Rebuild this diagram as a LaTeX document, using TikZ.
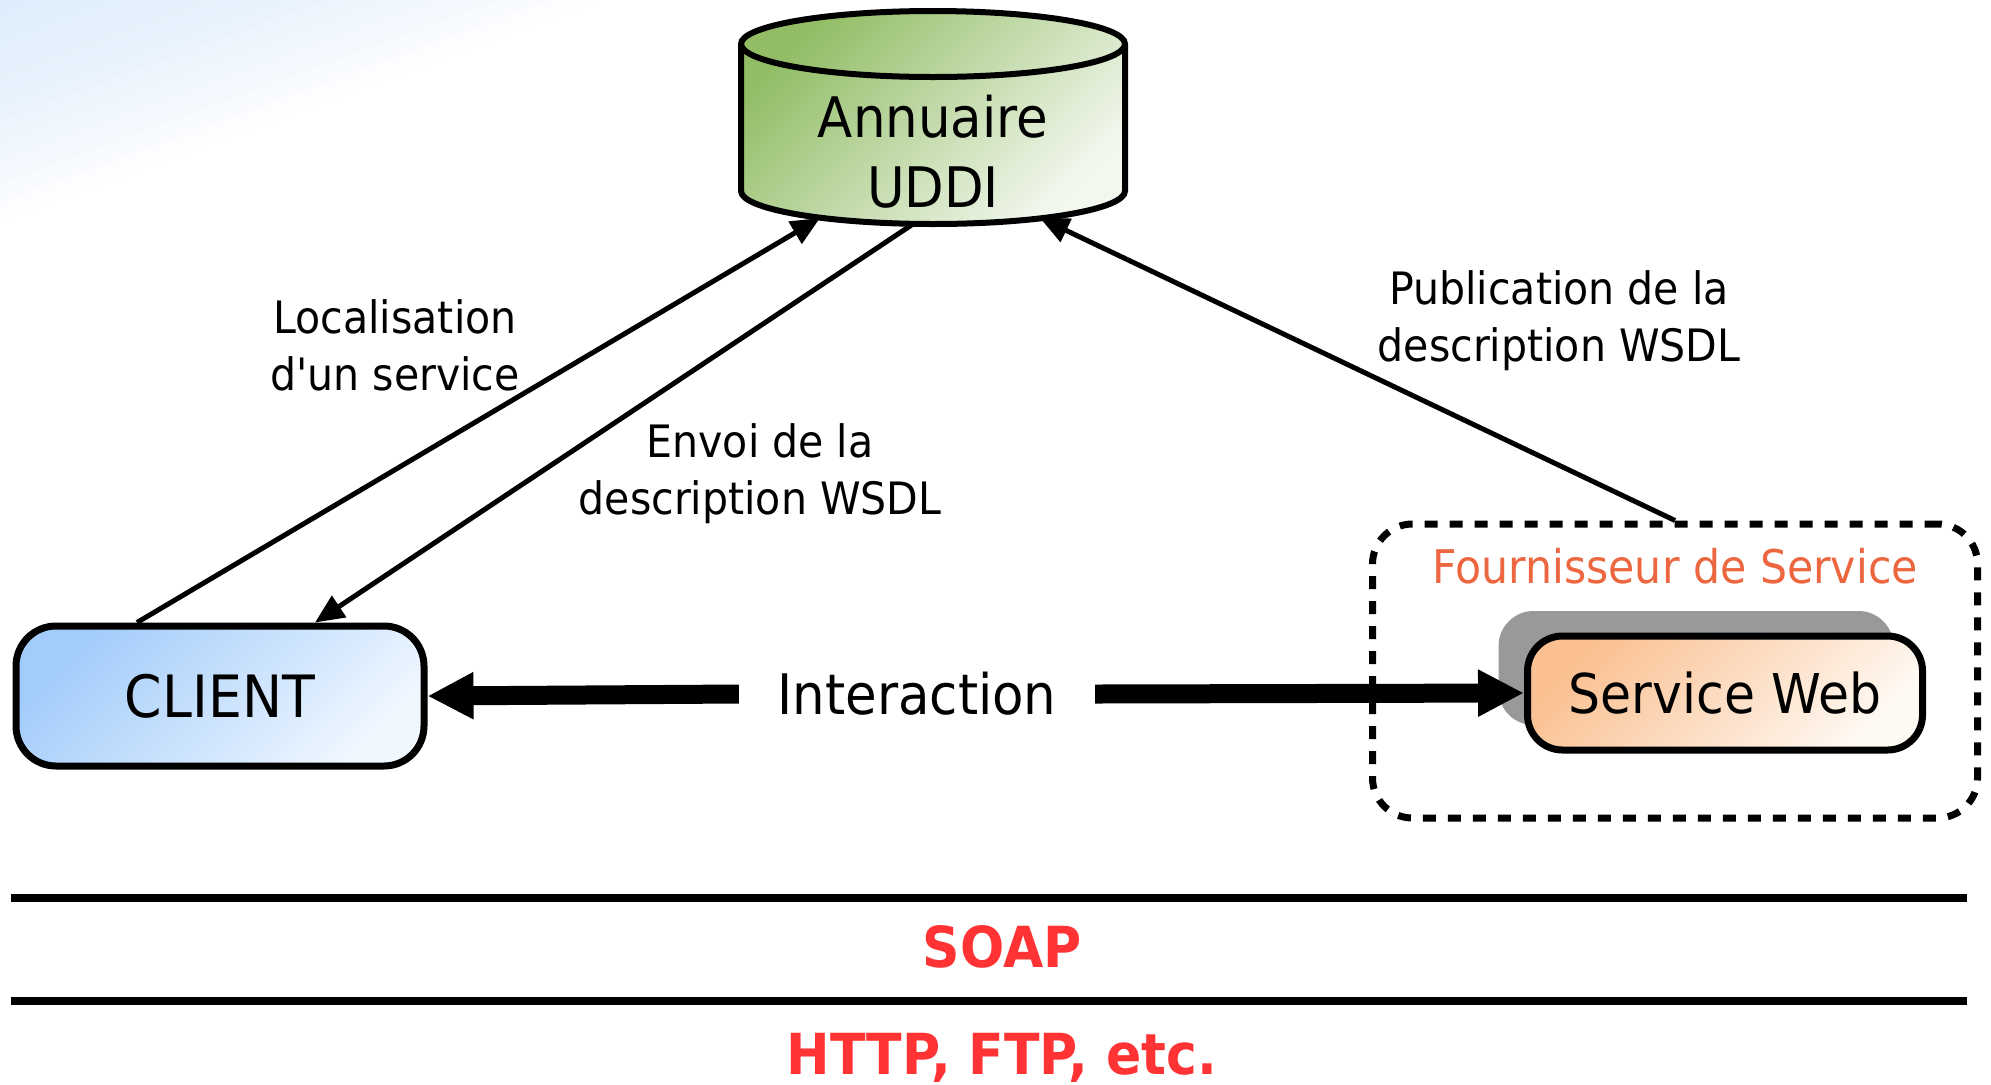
\documentclass[tikz,border=0pt]{standalone}
\usepackage{fontspec}
\setmainfont{DejaVu Sans}[FakeStretch=0.92, Ligatures=TeXOff]
\usetikzlibrary{arrows.meta,positioning,shadows,calc}

\definecolor{fondbleu}{RGB}{205,227,250}
\definecolor{uddihaut}{RGB}{146,189,102}
\definecolor{uddibas}{RGB}{243,248,239}
\definecolor{clienthaut}{RGB}{162,204,250}
\definecolor{clientbas}{RGB}{240,247,255}
\definecolor{webhaut}{RGB}{250,192,145}
\definecolor{webbas}{RGB}{255,249,243}
\definecolor{orangefourn}{RGB}{236,102,64}
\definecolor{rougesoap}{RGB}{255,51,51}

\begin{document}
\begin{tikzpicture}[x=0.1mm, y=-0.1mm,
  degrade/.style 2 args={top color=#1, bottom color=#2, shading angle=45},
  boite/.style={draw=black, rounded corners=4mm, line width=.7mm, align=center},
  cuve/.style={draw=black, line width=.6mm},
  bout/.style={x radius=19.2mm, y radius=3.3mm},
  cadre/.style={draw=black, dash pattern=on 1.3mm off 1.2mm, line width=.7mm, rounded corners=4mm, minimum width=60.5mm, minimum height=29.4mm},
  fleche/.style={-{Triangle[length=2.9mm,width=2.5mm]}, draw=black, line width=.5mm},
  grosse/.style={-{Triangle[length=4.6mm,width=4.4mm]}, draw=black, line width=1.9mm},
  legende/.style={align=center, font=\fontsize{12.7}{16.2}\selectfont},
  couche/.style={draw=black, line width=.85mm},
  protocole/.style={text=rougesoap, font=\fontsize{16.1}{19}\selectfont\bfseries}
]
\useasboundingbox (0,0) rectangle (1991,1084);
% fond degrade en haut a gauche
\foreach \k in {1,...,24}{\fill[fondbleu, opacity=.045] (0,0) -- (25*\k,0) -- (0,9.2*\k) -- cycle;}

% annuaire en cylindre
\node[minimum width=38.4mm, minimum height=21.3mm, inner sep=0pt, outer sep=0pt] (uddi) at (933,117.5) {};
\path[cuve, degrade={uddihaut}{uddibas}] ($(uddi.north west)+(0,33)$) -- ($(uddi.south west)+(0,-33)$)
  arc[start angle=180, end angle=360, bout] -- ($(uddi.north east)+(0,33)$)
  arc[start angle=0, end angle=180, bout] -- cycle;
\draw[cuve] ($(uddi.north west)+(0,33)$) arc[start angle=180, end angle=360, bout];
\node[align=center, font=\fontsize{15.9}{19.9}\selectfont] (uddinom) at (933,152) {Annuaire\\UDDI};

\node[boite, degrade={clienthaut}{clientbas}, minimum width=40.8mm, minimum height=14mm, font=\fontsize{16.6}{20}\selectfont] (client) at (220,696) {CLIENT};
\node[cadre] (fournisseur) at (1675,671) {};
\node[text=orangefourn, font=\fontsize{13.2}{16}\selectfont, below=1.5mm of fournisseur.north] (titre) {Fournisseur de Service};
\node[boite, rounded corners=3.5mm, degrade={webhaut}{webbas}, minimum width=39.5mm, minimum height=11.4mm, general shadow={fill=black!40, shadow xshift=-2.9mm, shadow yshift=2.5mm}, font=\fontsize{15.6}{19}\selectfont] (web) at (1725,693) {Service Web};

\node[font=\fontsize{15.9}{19}\selectfont, inner xsep=3.8mm] (interaction) at (917,694) {Interaction};
\draw[grosse] (interaction.west) -- (client.east);
\draw[grosse] (interaction.east) -- (web.west);

\node[legende] (loc) at (395,345) {Localisation\\d'un service};
\node[legende] (envoi) at (760,474) {Envoi de la\\description WSDL};
\node[legende] (pub) at (1559,321) {Publication de la\\description WSDL};
\draw[fleche] ($(client.north)+(-83,0)$) -- ($(uddi.south)+(-113,-6)$);
\draw[fleche] ($(uddi.south)+(-20,0)$) -- ($(client.north)+(95,0)$);
\draw[fleche] (fournisseur.north) -- ($(uddi.south)+(107,-6)$);

% couches protocolaires
\draw[couche] (11,898) -- (1967,898);
\draw[couche] (11,1001) -- (1967,1001);
\node[protocole, anchor=base] (soap) at (1002,967) {SOAP};
\node[protocole, anchor=base] (http) at (1002,1074) {HTTP, FTP, etc.};
\end{tikzpicture}
\end{document}
